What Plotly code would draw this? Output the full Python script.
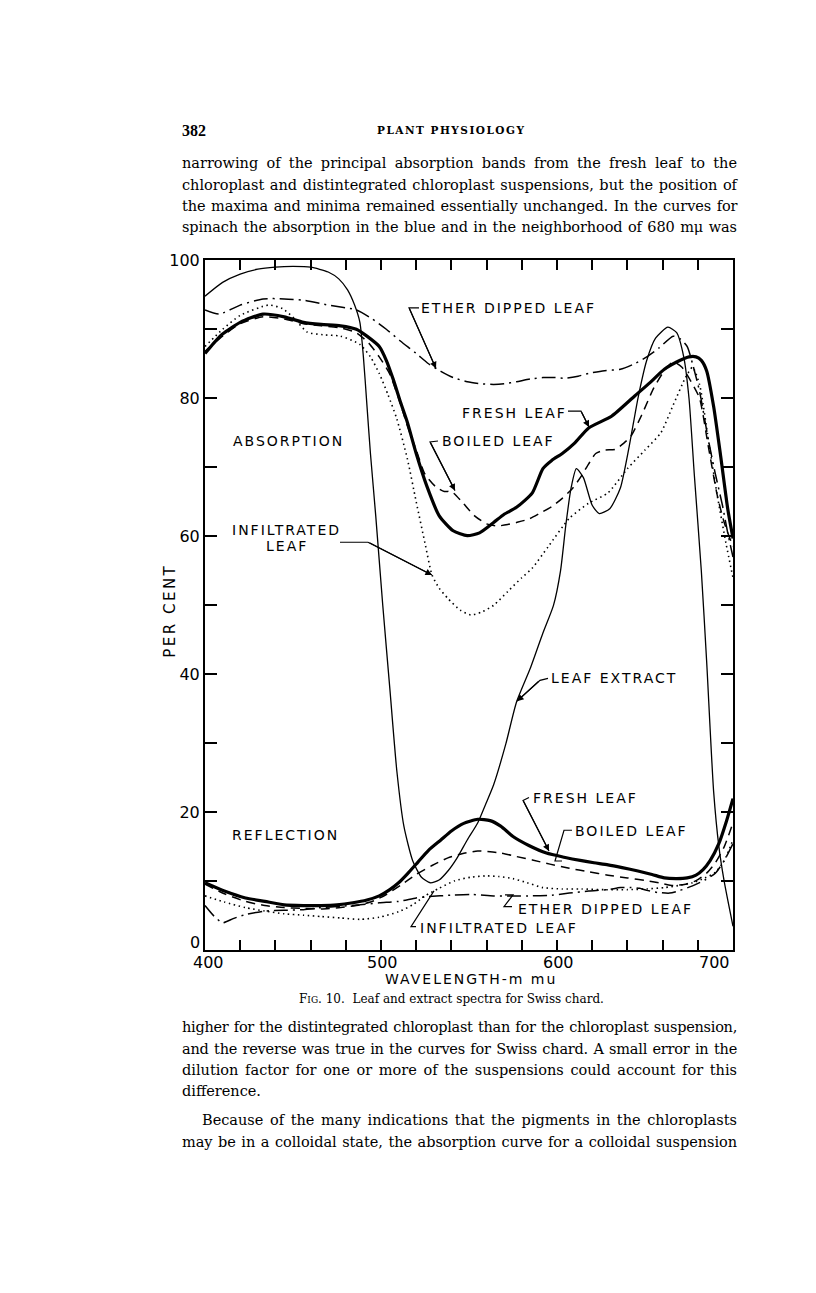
"""Fig. 10 of a Plant Physiology page: leaf and extract spectra for Swiss chard."""

import plotly.graph_objects as go

# ---- curves: wavelength (m mu) -> per cent ----
extract_nm = [400, 410, 420, 430, 440, 450, 460, 470, 476, 481, 485, 488, 490, 492, 494, 497,
              501, 505, 509, 513, 518, 523, 528, 533, 538, 543, 549, 555, 560, 564, 571, 577,
              585, 592, 598, 602, 605, 608, 611, 615, 620, 624, 630, 636, 641, 646, 651, 656,
              663, 668, 672, 675, 678, 682, 685, 689, 692, 695, 700]
extract_abs = [94.8, 96.8, 98.0, 98.7, 99.0, 99.1, 99.0, 98.3, 97.3, 95.7, 93.5, 91, 86, 79, 72, 63,
               50, 38, 26, 18, 13, 10.6, 9.8, 10.2, 11.5, 13.3, 16, 18.5, 21.5, 24, 30, 36,
               41, 46, 50, 55, 61.6, 67, 69.8, 68.5, 64.5, 63.3, 64, 67, 73, 80, 85.5, 88.7,
               90.3, 89.5, 86, 80, 69, 55, 42, 23, 15, 10, 3.5]

fresh_abs_nm = [400, 405, 410, 420, 433, 445, 456, 466, 477, 486, 492, 499, 503, 507, 511, 515,
                520, 526, 533, 541, 549, 556, 564, 570, 577, 586, 592, 597, 603, 610, 618, 631,
                644, 653, 661, 670, 675, 679, 682, 685, 689, 693, 697, 700]
fresh_abs = [86.5, 88, 89.3, 91, 92.2, 91.8, 91, 90.7, 90.5, 90, 89, 87.5, 85.5, 82.7, 79.5, 76.5,
             72, 67.3, 63, 60.8, 60.1, 60.5, 62, 63.2, 64.2, 66.3, 69.8, 71, 72, 73.5, 75.7, 77.4,
             80.3, 82.3, 84.2, 85.5, 86, 86, 85.5, 84, 78.8, 71.6, 64, 59.7]

boiled_abs_nm = [400, 410, 420, 433, 445, 456, 466, 477, 486, 493, 499, 505, 510, 515, 520, 525,
                 531, 536, 540, 546, 553, 560, 566, 572, 577, 584, 590, 597, 603, 609, 614, 618,
                 622, 627, 633, 638, 642, 648, 655, 661, 666, 671, 676, 681, 686, 691, 695, 700]
boiled_abs = [86.8, 89, 90.8, 91.8, 91.5, 90.8, 90.5, 90.2, 89.5, 88, 86, 83.5, 80, 76, 72.5, 69,
              67.2, 66.5, 66.5, 65, 63, 61.8, 61.5, 61.7, 62, 62.5, 63.3, 64.3, 65.5, 67, 68.8, 70.5,
              72, 72.5, 72.6, 73.5, 74.5, 77.5, 81.5, 84, 85.3, 84.5, 82.5, 80, 73, 66, 62, 58.5]

infil_abs_nm = [400, 410, 420, 436, 444, 451, 458, 467, 477, 488, 494, 499, 504, 509, 515, 520,
                525, 529, 533, 538, 545, 551, 557, 564, 572, 580, 586, 595, 607, 618, 629, 640,
                650, 659, 666, 673, 677, 681, 686, 691, 696, 700]
infil_abs = [87.5, 90, 92, 93.5, 93, 91.5, 89.6, 89.2, 89, 87.8, 86, 83.6, 80.5, 77, 71.2, 65,
             59, 54.4, 52.5, 51, 49.3, 48.6, 49, 50, 52, 54, 55.4, 58.5, 62.6, 64.8, 66.3, 69.8,
             72.5, 75, 79, 83, 84.5, 82, 74, 66, 59, 54]

ether_abs_nm = [400, 408, 420, 433, 445, 456, 470, 486, 495, 503, 511, 520, 527, 534, 541, 549,
                557, 564, 570, 577, 585, 592, 599, 605, 612, 618, 627, 636, 644, 651, 658, 666,
                670, 674, 677, 681, 686, 690, 694, 697, 700]
ether_abs = [92.8, 92.2, 93.5, 94.4, 94.4, 94.2, 93.5, 92.8, 91.5, 90, 88.3, 86.5, 85, 83.9, 83, 82.4,
             82.1, 82, 82.1, 82.4, 82.8, 83, 83, 82.9, 83.2, 83.6, 84, 84.2, 85, 86, 87.3, 89,
             88.6, 87.5, 85, 81, 74, 69, 64.5, 60.5, 57]

fresh_ref_nm = [400, 411, 423, 434, 445, 456, 466, 475, 484, 492, 499, 505, 510, 515, 521, 527,
                534, 540, 547, 555, 562, 568, 575, 584, 594, 604, 614, 621, 629, 637, 646, 654,
                661, 668, 674, 679, 683, 687, 692, 696, 700]
fresh_ref = [9.8, 8.6, 7.6, 7.1, 6.6, 6.5, 6.5, 6.6, 6.9, 7.3, 7.9, 8.8, 9.8, 11.1, 12.8, 14.5,
             16, 17.3, 18.4, 19, 18.8, 18, 16.5, 15.2, 14.1, 13.5, 13, 12.7, 12.4, 12, 11.5, 11,
             10.5, 10.4, 10.5, 10.9, 11.7, 13, 15.5, 18.5, 22]

boiled_ref_nm = [400, 411, 423, 434, 445, 456, 466, 477, 488, 496, 503, 511, 520, 529, 538, 546,
                 555, 562, 568, 577, 586, 596, 607, 618, 629, 640, 651, 658, 666, 673, 679, 685,
                 690, 695, 700]
boiled_ref = [9.6, 8.2, 7.1, 6.5, 6.2, 6.1, 6.0, 6.2, 6.6, 7.2, 8.1, 9.4, 11, 12.3, 13.4, 14.0,
              14.4, 14.3, 14.1, 13.6, 13.1, 12.5, 11.9, 11.4, 10.9, 10.5, 10.1, 9.8, 9.4, 9.6, 10.1, 11.2,
              12.7, 15, 18.5]

infil_ref_nm = [400, 411, 423, 434, 445, 456, 466, 477, 488, 499, 510, 518, 525, 533, 542, 551,
                560, 567, 575, 583, 592, 603, 614, 627, 640, 651, 661, 669, 677, 684, 690, 695, 700]
infil_ref = [7.9, 7.0, 6.2, 5.7, 5.3, 5.1, 4.9, 4.7, 4.5, 4.8, 5.6, 6.6, 7.9, 9.0, 10.1, 10.6,
             10.8, 10.7, 10.4, 9.8, 9.1, 8.9, 8.9, 8.8, 8.8, 8.9, 9.1, 9.4, 9.8, 10.5, 11.3, 13, 16]

ether_ref_nm = [400, 405, 410, 416, 423, 434, 445, 456, 466, 477, 488, 499, 510, 520, 527, 540,
                552, 564, 575, 586, 597, 607, 618, 629, 636, 642, 647, 651, 657, 664, 670, 677,
                684, 690, 695, 700]
ether_ref = [6.5, 5.0, 4.0, 4.6, 5.2, 5.7, 5.8, 5.9, 6.2, 6.4, 6.6, 6.9, 7.1, 7.6, 7.8, 8.0,
             8.1, 7.9, 7.9, 7.9, 8.0, 8.3, 8.6, 8.8, 9.1, 9.1, 9.0, 8.7, 8.4, 8.3, 8.7, 9.35,
             10.2, 11.2, 13, 15.5]

x_tick_labels = ["400", "500", "600", "700"]
y_tick_values = list(range(0, 101, 10))
y_tick_labels = ["", "", "20", "", "40", "", "60", "", "80", "", "100"]

top_lines = [
    "narrowing of the principal absorption bands from the fresh leaf to the",
    "chloroplast and distintegrated chloroplast suspensions, but the position of",
    "the maxima and minima remained essentially unchanged. In the curves for",
    "spinach the absorption in the blue and in the neighborhood of 680 m\u03bc was",
]
bottom_lines = [
    "higher for the distintegrated chloroplast than for the chloroplast suspension,",
    "and the reverse was true in the curves for Swiss chard. A small error in the",
    "dilution factor for one or more of the suspensions could account for this",
    "difference.",
    "Because of the many indications that the pigments in the chloroplasts",
    "may be in a colloidal state, the absorption curve for a colloidal suspension",
]

# ---- page geometry (pixels) ----
W, H = 816, 1293
PX_L, PX_R, PX_T, PX_B = 205, 733, 253, 948
TEXT_L, TEXT_R = 180, 735
SERIF = "DejaVu Serif"
SANS = "DejaVu Sans"
BODY_SIZE = 14.5
INK = "#000"

# approximate DejaVu Serif advances (em) used to justify body lines
SERIF_EM = {" ": 0.318, "a": 0.596, "b": 0.640, "c": 0.560, "d": 0.640, "e": 0.592, "f": 0.370,
            "g": 0.640, "h": 0.644, "i": 0.320, "j": 0.310, "k": 0.606, "l": 0.320, "m": 0.948,
            "n": 0.644, "o": 0.602, "p": 0.640, "q": 0.640, "r": 0.478, "s": 0.513, "t": 0.402,
            "u": 0.644, "v": 0.565, "w": 0.856, "x": 0.564, "y": 0.565, "z": 0.527, ",": 0.318,
            ".": 0.318, "A": 0.722, "B": 0.735, "I": 0.365, "S": 0.685, "\u03bc": 0.660}


def px(x):
    return x / W


def py(y):
    return 1 - y / H


def spaced(text, gap):
    return f"<span style='letter-spacing:{gap}px'>{text}</span>"


def justified(line, left, right, size):
    """Stretch word gaps to fill the measure; squeeze letters when the line is too long."""
    natural = sum(SERIF_EM.get(c, 0.636) for c in line) * size
    spaces = max(line.count(" "), 1)
    slack = right - left - natural
    if slack >= spaces:
        return f"<span style='word-spacing:{slack / spaces:.2f}px'>{line}</span>"
    tight = (slack - spaces) / len(line)
    return f"<span style='word-spacing:1px;letter-spacing:{tight:.3f}px'>{line}</span>"


def note(text, x, y, size, family=SANS, anchor="center", **kw):
    return dict(text=text, x=px(x), y=py(y), xref="paper", yref="paper",
                xanchor=anchor, yanchor="middle", showarrow=False,
                font={"family": family, "size": size, "color": INK}, **kw)


fig = go.Figure()

curves = [
    (extract_nm, extract_abs, 1.3, "solid"),
    (fresh_abs_nm, fresh_abs, 3.2, "solid"),
    (boiled_abs_nm, boiled_abs, 1.5, "9px,6px"),
    (infil_abs_nm, infil_abs, 1.6, "1.5px,3.5px"),
    (ether_abs_nm, ether_abs, 1.5, "14px,5px,2px,5px"),
    (fresh_ref_nm, fresh_ref, 3.2, "solid"),
    (boiled_ref_nm, boiled_ref, 1.5, "9px,6px"),
    (infil_ref_nm, infil_ref, 1.6, "1.5px,3.5px"),
    (ether_ref_nm, ether_ref, 1.5, "14px,5px,2px,5px"),
]
for xs, ys, width, dash in curves:
    fig.add_trace(go.Scatter(
        x=xs, y=ys, mode="lines", showlegend=False, hoverinfo="skip",
        line={"color": INK, "width": width, "dash": dash, "shape": "spline", "smoothing": 0.6},
    ))

ann = []
# curve labels (text, x px, y px, anchor)
labels = [
    ("ETHER DIPPED LEAF", 419, 301, "left"),
    ("FRESH LEAF", 460, 407, "left"),
    ("BOILED LEAF", 440, 435, "left"),
    ("ABSORPTION", 288, 435, "center"),
    ("INFILTRATED", 286, 525, "center"),
    ("LEAF", 287, 541, "center"),
    ("LEAF EXTRACT", 549, 674, "left"),
    ("REFLECTION", 285, 832, "center"),
    ("FRESH LEAF", 531, 795, "left"),
    ("BOILED LEAF", 573, 828, "left"),
    ("ETHER DIPPED LEAF", 516, 906, "left"),
    ("INFILTRATED LEAF", 418, 925, "left"),
]
for text, x, y, anchor in labels:
    ann.append(note(spaced(text, 2), x, y, 14, anchor=anchor))

# leader lines: polyline in pixels, last point is the tip on the curve
leaders = [
    ([(419, 301), (409, 301), (436, 362)], True),
    ([(568, 405), (581, 405), (589, 421)], True),
    ([(438, 435), (430, 436), (455, 485)], True),
    ([(340, 537), (368, 537), (432, 570)], True),
    ([(548, 674), (540, 676), (517, 697)], True),
    ([(529, 794), (523, 797), (549, 848)], True),
    ([(572, 827), (564, 827), (555, 858), (562, 858)], False),
    ([(505, 892), (513, 892), (504, 904), (512, 904)], False),
    ([(416, 924), (411, 924), (434, 888)], False),
]
shapes = []
for pts, head in leaders:
    path = "M " + " L ".join(f"{px(x):.5f},{py(y):.5f}" for x, y in pts)
    shapes.append(dict(type="path", path=path, xref="paper", yref="paper",
                       line={"color": INK, "width": 1.2}))
    if head:
        (x0, y0), (x1, y1) = pts[-2], pts[-1]
        ann.append(dict(text="", x=px(x1), y=py(y1), xref="paper", yref="paper",
                        ax=x0 - x1, ay=y0 - y1, axref="pixel", ayref="pixel",
                        showarrow=True, arrowhead=2, arrowsize=1.1, arrowwidth=1.2,
                        arrowcolor=INK, standoff=0))

# tick labels that sit off the regular tick positions, and axis titles
ann.append(note("0", 195, 940, 16))
for label, x in zip(x_tick_labels, [208, 382, 558, 714]):
    ann.append(note(label, x, 960, 16))
ann.append(note(spaced("WAVELENGTH-m mu", 2), 471, 977, 14))
ann.append(note(spaced("PER CENT", 2.5), 170, 606, 15, textangle=-90))

# page furniture
ann.append(note("<b>382</b>", 180, 122, 16, family="Liberation Serif", anchor="left"))
ann.append(note(spaced("<b>PLANT PHYSIOLOGY</b>", 1.5), 451, 122, 10.5, family=SERIF))
ann.append(note("F<span style='font-size:9px'>IG</span>. 10.  Leaf and extract spectra for Swiss chard.",
                451, 997, 12, family=SERIF))

body = [(line, TEXT_L, y, True) for line, y in zip(top_lines, [155, 177, 198, 220])]
body += [
    (bottom_lines[0], TEXT_L, 1025, True),
    (bottom_lines[1], TEXT_L, 1047, True),
    (bottom_lines[2], TEXT_L, 1068, True),
    (bottom_lines[3], TEXT_L, 1090, False),
    (bottom_lines[4], TEXT_L + 20, 1119, True),
    (bottom_lines[5], TEXT_L, 1141, True),
]
for line, left, y, just in body:
    text = justified(line, left, TEXT_R, BODY_SIZE) if just else line
    ann.append(note(text, left, y, BODY_SIZE, family=SERIF, anchor="left"))

axis_common = dict(showline=True, linecolor=INK, linewidth=2, mirror="ticks",
                   ticks="inside", tickcolor=INK, showgrid=False, zeroline=False)
fig.update_layout(
    width=W, height=H, margin={"l": 0, "r": 0, "t": 0, "b": 0},
    paper_bgcolor="white", plot_bgcolor="white", showlegend=False,
    xaxis=dict(domain=[PX_L / W, PX_R / W], range=[400, 700], tickvals=list(range(400, 701, 20)),
               showticklabels=False, ticklen=10, tickwidth=1.8, **axis_common),
    yaxis=dict(domain=[1 - PX_B / H, 1 - PX_T / H], range=[0, 100], tickvals=y_tick_values,
               ticktext=y_tick_labels, ticklen=12, tickwidth=1.8,
               tickfont={"family": SANS, "size": 16, "color": INK}, **axis_common),
    annotations=ann, shapes=shapes,
)

fig.write_html("out.html", config={"displayModeBar": False},
               post_script="document.body.style.margin='0';")
